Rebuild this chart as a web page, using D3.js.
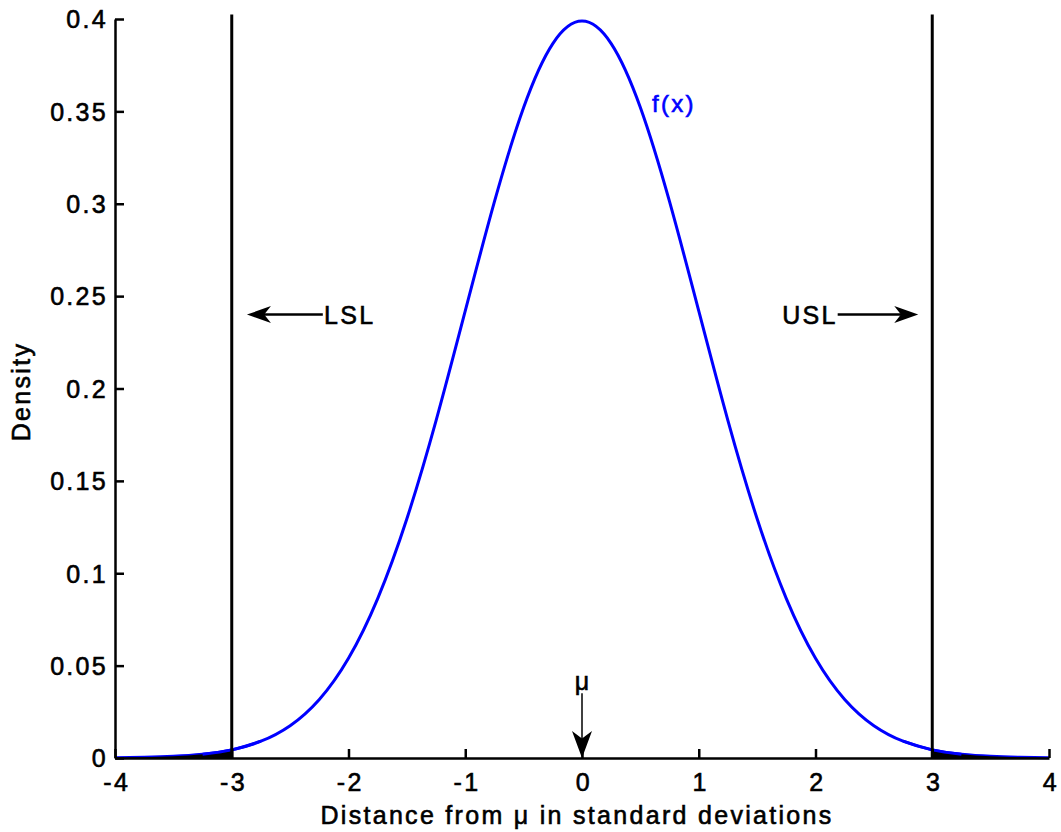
<!DOCTYPE html>
<html>
<head>
<meta charset="utf-8">
<script src="https://cdn.jsdelivr.net/npm/d3@7"></script>
<style>
  html, body { margin: 0; padding: 0; background: #fff; }
  svg text {
    font-family: "Liberation Sans", Arial, sans-serif;
    letter-spacing: 2.3px;
    stroke-width: 0.6px;
    paint-order: stroke;
  }
</style>
</head>
<body>
<svg id="chart" width="1061" height="832"></svg>
<script>
// Standard normal density, sampled every 0.25 standard deviations
const xs = [-4, -3.75, -3.5, -3.25, -3, -2.75, -2.5, -2.25, -2, -1.75, -1.5, -1.25, -1, -0.75, -0.5, -0.25,
            0, 0.25, 0.5, 0.75, 1, 1.25, 1.5, 1.75, 2, 2.25, 2.5, 2.75, 3, 3.25, 3.5, 3.75, 4];
const density = [0.0001, 0.0004, 0.0009, 0.0020, 0.0044, 0.0091, 0.0175, 0.0317, 0.0540, 0.0863, 0.1295, 0.1826,
                 0.2420, 0.3011, 0.3521, 0.3867, 0.3989, 0.3867, 0.3521, 0.3011, 0.2420, 0.1826, 0.1295, 0.0863,
                 0.0540, 0.0317, 0.0175, 0.0091, 0.0044, 0.0020, 0.0009, 0.0004, 0.0001];

// Axis ticks
const xTicks = [-4, -3, -2, -1, 0, 1, 2, 3, 4];
const yTicks = [0, 0.05, 0.1, 0.15, 0.2, 0.25, 0.3, 0.35, 0.4];
const yTickLabels = ["0", "0.05", "0.1", "0.15", "0.2", "0.25", "0.3", "0.35", "0.4"];

// Specification limits (in standard deviations)
const specLimits = [-3, 3];
const specLabels = ["LSL", "USL"];

const pts = xs.map((x, i) => ({ x, y: density[i] }));

const svg = d3.select("#chart");
const x = d3.scaleLinear().domain([-4, 4]).range([115, 1049]);
const y = d3.scaleLinear().domain([0, 0.4]).range([758, 19]);

const FS = 25;

// Blue density curve
const line = d3.line().x(d => x(d.x)).y(d => y(d.y)).curve(d3.curveNatural);
svg.append("path")
  .datum(pts)
  .attr("fill", "none")
  .attr("stroke", "#0000ff")
  .attr("stroke-width", 3)
  .attr("d", line);

// Shaded tails beyond the specification limits
const area = d3.area().x(d => x(d.x)).y0(y(0)).y1(d => y(d.y)).curve(d3.curveNatural);
svg.append("path").datum(pts.filter(d => d.x <= -3)).attr("fill", "#000").attr("d", area);
svg.append("path").datum(pts.filter(d => d.x >= 3)).attr("fill", "#000").attr("d", area);

// Short blue segment near the limits on top of the tail fills
svg.append("path")
  .datum(pts.filter(d => d.x >= -3.25 && d.x <= -2.75))
  .attr("fill", "none").attr("stroke", "#0000ff").attr("stroke-width", 3).attr("d", line);
svg.append("path")
  .datum(pts.filter(d => d.x >= 2.75 && d.x <= 3.25))
  .attr("fill", "none").attr("stroke", "#0000ff").attr("stroke-width", 3).attr("d", line);

// Vertical limit lines
svg.selectAll("line.limit")
  .data(specLimits)
  .enter().append("line")
  .attr("class", "limit")
  .attr("x1", d => x(d)).attr("x2", d => x(d))
  .attr("y1", y(0)).attr("y2", y(0.4025))
  .attr("stroke", "#000").attr("stroke-width", 3);

// Axes
const xAxis = svg.append("g")
  .attr("transform", `translate(0,${y(0)})`)
  .call(d3.axisBottom(x).tickValues(xTicks).tickSizeInner(-9).tickSizeOuter(0).tickPadding(17)
        .tickFormat(d => String(d)));
const yAxis = svg.append("g")
  .attr("transform", `translate(${x(-4)},0)`)
  .call(d3.axisLeft(y).tickValues(yTicks).tickSizeInner(-9).tickSizeOuter(0).tickPadding(7)
        .tickFormat((d, i) => yTickLabels[i]));

[xAxis, yAxis].forEach(g => {
  g.select(".domain").attr("stroke", "#000").attr("stroke-width", 2.5);
  g.selectAll(".tick line").attr("stroke", "#000").attr("stroke-width", 2.5);
  g.selectAll(".tick text")
    .attr("fill", "#000")
    .attr("stroke", "#000")
    .style("font-size", FS + "px")
    .style("font-family", "'Liberation Sans', Arial, sans-serif");
});
yAxis.selectAll(".tick text").attr("dy", "0.35em");
xAxis.selectAll(".tick text").attr("dy", "0.62em").attr("dx", "0.05em");

// Axis titles
svg.append("text")
  .attr("x", x(0) - 5).attr("y", 824)
  .attr("text-anchor", "middle")
  .attr("stroke", "#000")
  .style("font-size", FS + "px")
  .text("Distance from μ in standard deviations");
svg.append("text")
  .attr("transform", `translate(30,${y(0.2) + 3}) rotate(-90)`)
  .attr("text-anchor", "middle")
  .attr("stroke", "#000")
  .style("font-size", FS + "px")
  .text("Density");

// Curve label
svg.append("text")
  .attr("x", x(0.6)).attr("y", y(0.35) + 1)
  .attr("fill", "#0000ff")
  .attr("stroke", "#0000ff")
  .style("font-size", (FS - 1) + "px")
  .text("f(x)");

// Arrow with a notched head; (x1,y1) tail -> (x2,y2) tip
function arrow(x1, y1, x2, y2, len, wid, sw) {
  const ang = Math.atan2(y2 - y1, x2 - x1);
  const c = Math.cos(ang), s = Math.sin(ang);
  const p = (a, b) => [x2 - a * c - b * s, y2 - a * s + b * c];
  svg.append("line")
    .attr("x1", x1).attr("y1", y1)
    .attr("x2", p(len * 0.7, 0)[0]).attr("y2", p(len * 0.7, 0)[1])
    .attr("stroke", "#000").attr("stroke-width", sw);
  const head = [p(0, 0), p(len, -wid / 2), p(len * 0.72, 0), p(len, wid / 2)];
  svg.append("path")
    .attr("d", "M" + head.map(q => q.join(",")).join("L") + "Z")
    .attr("fill", "#000");
}

// LSL / USL annotations
const annY = 0.24;
arrow(x(-2.22), y(annY), x(-2.87), y(annY), 24, 17, 2.5);
svg.append("text")
  .attr("x", x(-2.21)).attr("y", y(annY) + 9)
  .attr("stroke", "#000")
  .style("font-size", FS + "px")
  .text(specLabels[0]);
arrow(x(2.19), y(annY), x(2.88), y(annY), 24, 17, 2.5);
svg.append("text")
  .attr("x", x(2.19)).attr("y", y(annY) + 9)
  .attr("text-anchor", "end")
  .attr("stroke", "#000")
  .style("font-size", FS + "px")
  .text(specLabels[1]);

// Mean marker
arrow(x(0), y(0.035), x(0), y(0), 27, 20, 1.5);
svg.append("text")
  .attr("x", x(0) + 1).attr("y", y(0.037))
  .attr("text-anchor", "middle")
  .attr("stroke", "#000")
  .style("font-size", FS + "px")
  .text("μ");
</script>
</body>
</html>
